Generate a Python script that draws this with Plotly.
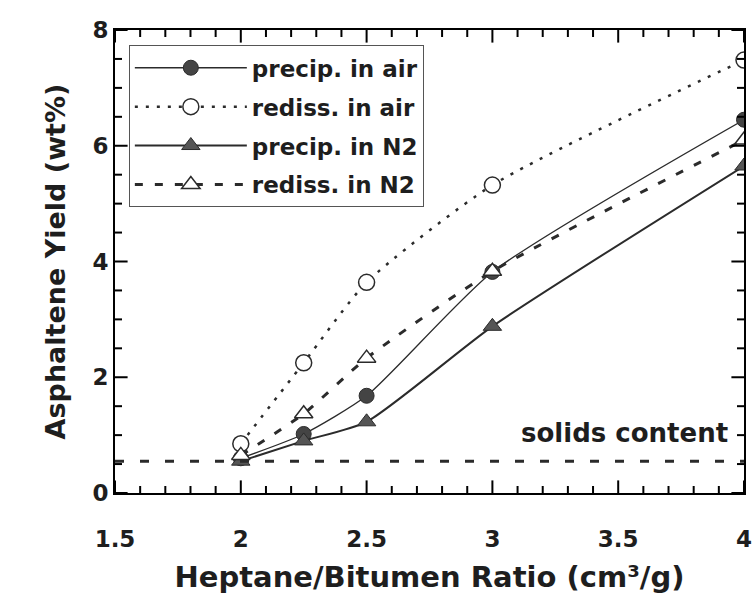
import plotly.graph_objects as go

ratio = [2.0, 2.25, 2.5, 3.0, 4.0]
precip_air = [0.60, 1.02, 1.68, 3.82, 6.45]
rediss_air = [0.85, 2.25, 3.64, 5.32, 7.48]
precip_n2 = [0.55, 0.90, 1.23, 2.88, 5.65]
rediss_n2 = [0.65, 1.37, 2.33, 3.83, 6.10]
solids_x = [1.5, 4.0]
solids_y = [0.55, 0.55]

x_range = [1.5, 4.0]
y_range = [0.0, 8.0]
x_major = [1.5, 2.0, 2.5, 3.0, 3.5, 4.0]
y_major = [0, 2, 4, 6, 8]
x_minor = [round(1.5 + 0.1 * i, 2) for i in range(26) if round(1.5 + 0.1 * i, 2) not in x_major]
y_minor = [0.5 * i for i in range(17) if 0.5 * i not in y_major]

FONT = "DejaVu Sans"
INK = "#2b2b2b"
TXT = "#1e1e1e"

fig = go.Figure()
fig.add_trace(go.Scatter(x=ratio, y=precip_air, name="<b>precip. in air</b>", mode="lines+markers",
                         legendgroup="a",
                         line=dict(color=INK, width=1.3, shape="spline", smoothing=0.6),
                         marker=dict(symbol="circle", size=15, color="#444444",
                                     line=dict(color=INK, width=1))))
fig.add_trace(go.Scatter(x=ratio, y=rediss_air, name="<b>rediss. in air</b>", mode="lines+markers",
                         legendgroup="b",
                         line=dict(color=INK, width=2.5, dash="3px,8px", shape="spline", smoothing=0.6),
                         marker=dict(symbol="circle", size=16, color="white",
                                     line=dict(color=INK, width=1.5))))
fig.add_trace(go.Scatter(x=ratio, y=precip_n2, name="<b>precip. in N2</b>", mode="lines+markers",
                         legendgroup="c",
                         line=dict(color=INK, width=2, shape="spline", smoothing=0.6),
                         marker=dict(symbol="triangle-up", size=16, color="#555555",
                                     line=dict(color=INK, width=1))))
fig.add_trace(go.Scatter(x=ratio, y=rediss_n2, name="<b>rediss. in N2</b>", mode="lines+markers",
                         legendgroup="d",
                         line=dict(color=INK, width=3, dash="8px,12px", shape="spline", smoothing=0.6),
                         marker=dict(symbol="triangle-up", size=16, color="white",
                                     line=dict(color=INK, width=1.5))))
fig.add_trace(go.Scatter(x=solids_x, y=solids_y, mode="lines", showlegend=False,
                         line=dict(color=INK, width=3, dash="9px,16px")))


# inward tick marks on all four sides (half of each marker is clipped at the frame)
def tick_marks(xs, ys, symbol, size):
    fig.add_trace(go.Scatter(x=xs, y=ys, mode="markers", showlegend=False, hoverinfo="skip",
                             cliponaxis=True,
                             marker=dict(symbol=symbol, size=size, color="black",
                                         line=dict(color="black", width=2))))


for yv in y_range:
    tick_marks(x_major, [yv] * len(x_major), "line-ns", 18)
    tick_marks(x_minor, [yv] * len(x_minor), "line-ns", 10)
for xv in x_range:
    tick_marks([xv] * len(y_major), y_major, "line-ew", 18)
    tick_marks([xv] * len(y_minor), y_minor, "line-ew", 10)

fig.add_annotation(x=3.944, y=1.04, text="<b>solids content</b>", showarrow=False,
                   xanchor="right", yanchor="middle", font=dict(family=FONT, size=26, color=TXT))

fig.update_xaxes(range=x_range, tickmode="array", tickvals=x_major,
                 ticktext=["1.5", "2", "2.5", "3", "3.5", "4"],
                 showline=True, linecolor="black", linewidth=2, mirror=True,
                 ticks="", showgrid=False, zeroline=False, automargin=False,
                 tickfont=dict(family=FONT, size=23, color=TXT, weight="bold"),
                 ticklabelstandoff=24,
                 title=dict(text="<b>Heptane/Bitumen Ratio (cm³/g)</b>", standoff=16,
                            font=dict(family=FONT, size=29, color=TXT)))
fig.update_yaxes(range=y_range, tickmode="array", tickvals=y_major,
                 showline=True, linecolor="black", linewidth=2, mirror=True,
                 ticks="", showgrid=False, zeroline=False, automargin=False,
                 tickfont=dict(family=FONT, size=23, color=TXT, weight="bold"),
                 ticksuffix="\u00a0\u00a0\u00a0\u00a0",
                 title=dict(text="<b>Asphaltene Yield (wt%)</b>", standoff=19,
                            font=dict(family=FONT, size=27, color=TXT)))

fig.update_layout(
    width=754, height=597,
    margin=dict(l=115, r=10, t=30, b=104),
    plot_bgcolor="white", paper_bgcolor="white",
    font=dict(family=FONT, color=TXT),
    legend=dict(x=0.022, y=0.967, xanchor="left", yanchor="top",
                bgcolor="white", bordercolor="#555", borderwidth=1,
                itemwidth=112, tracegroupgap=6,
                font=dict(family=FONT, size=23, color=TXT)),
)

fig.write_html("out.html", config={"displayModeBar": False},
               post_script="document.body.style.margin='0';")
